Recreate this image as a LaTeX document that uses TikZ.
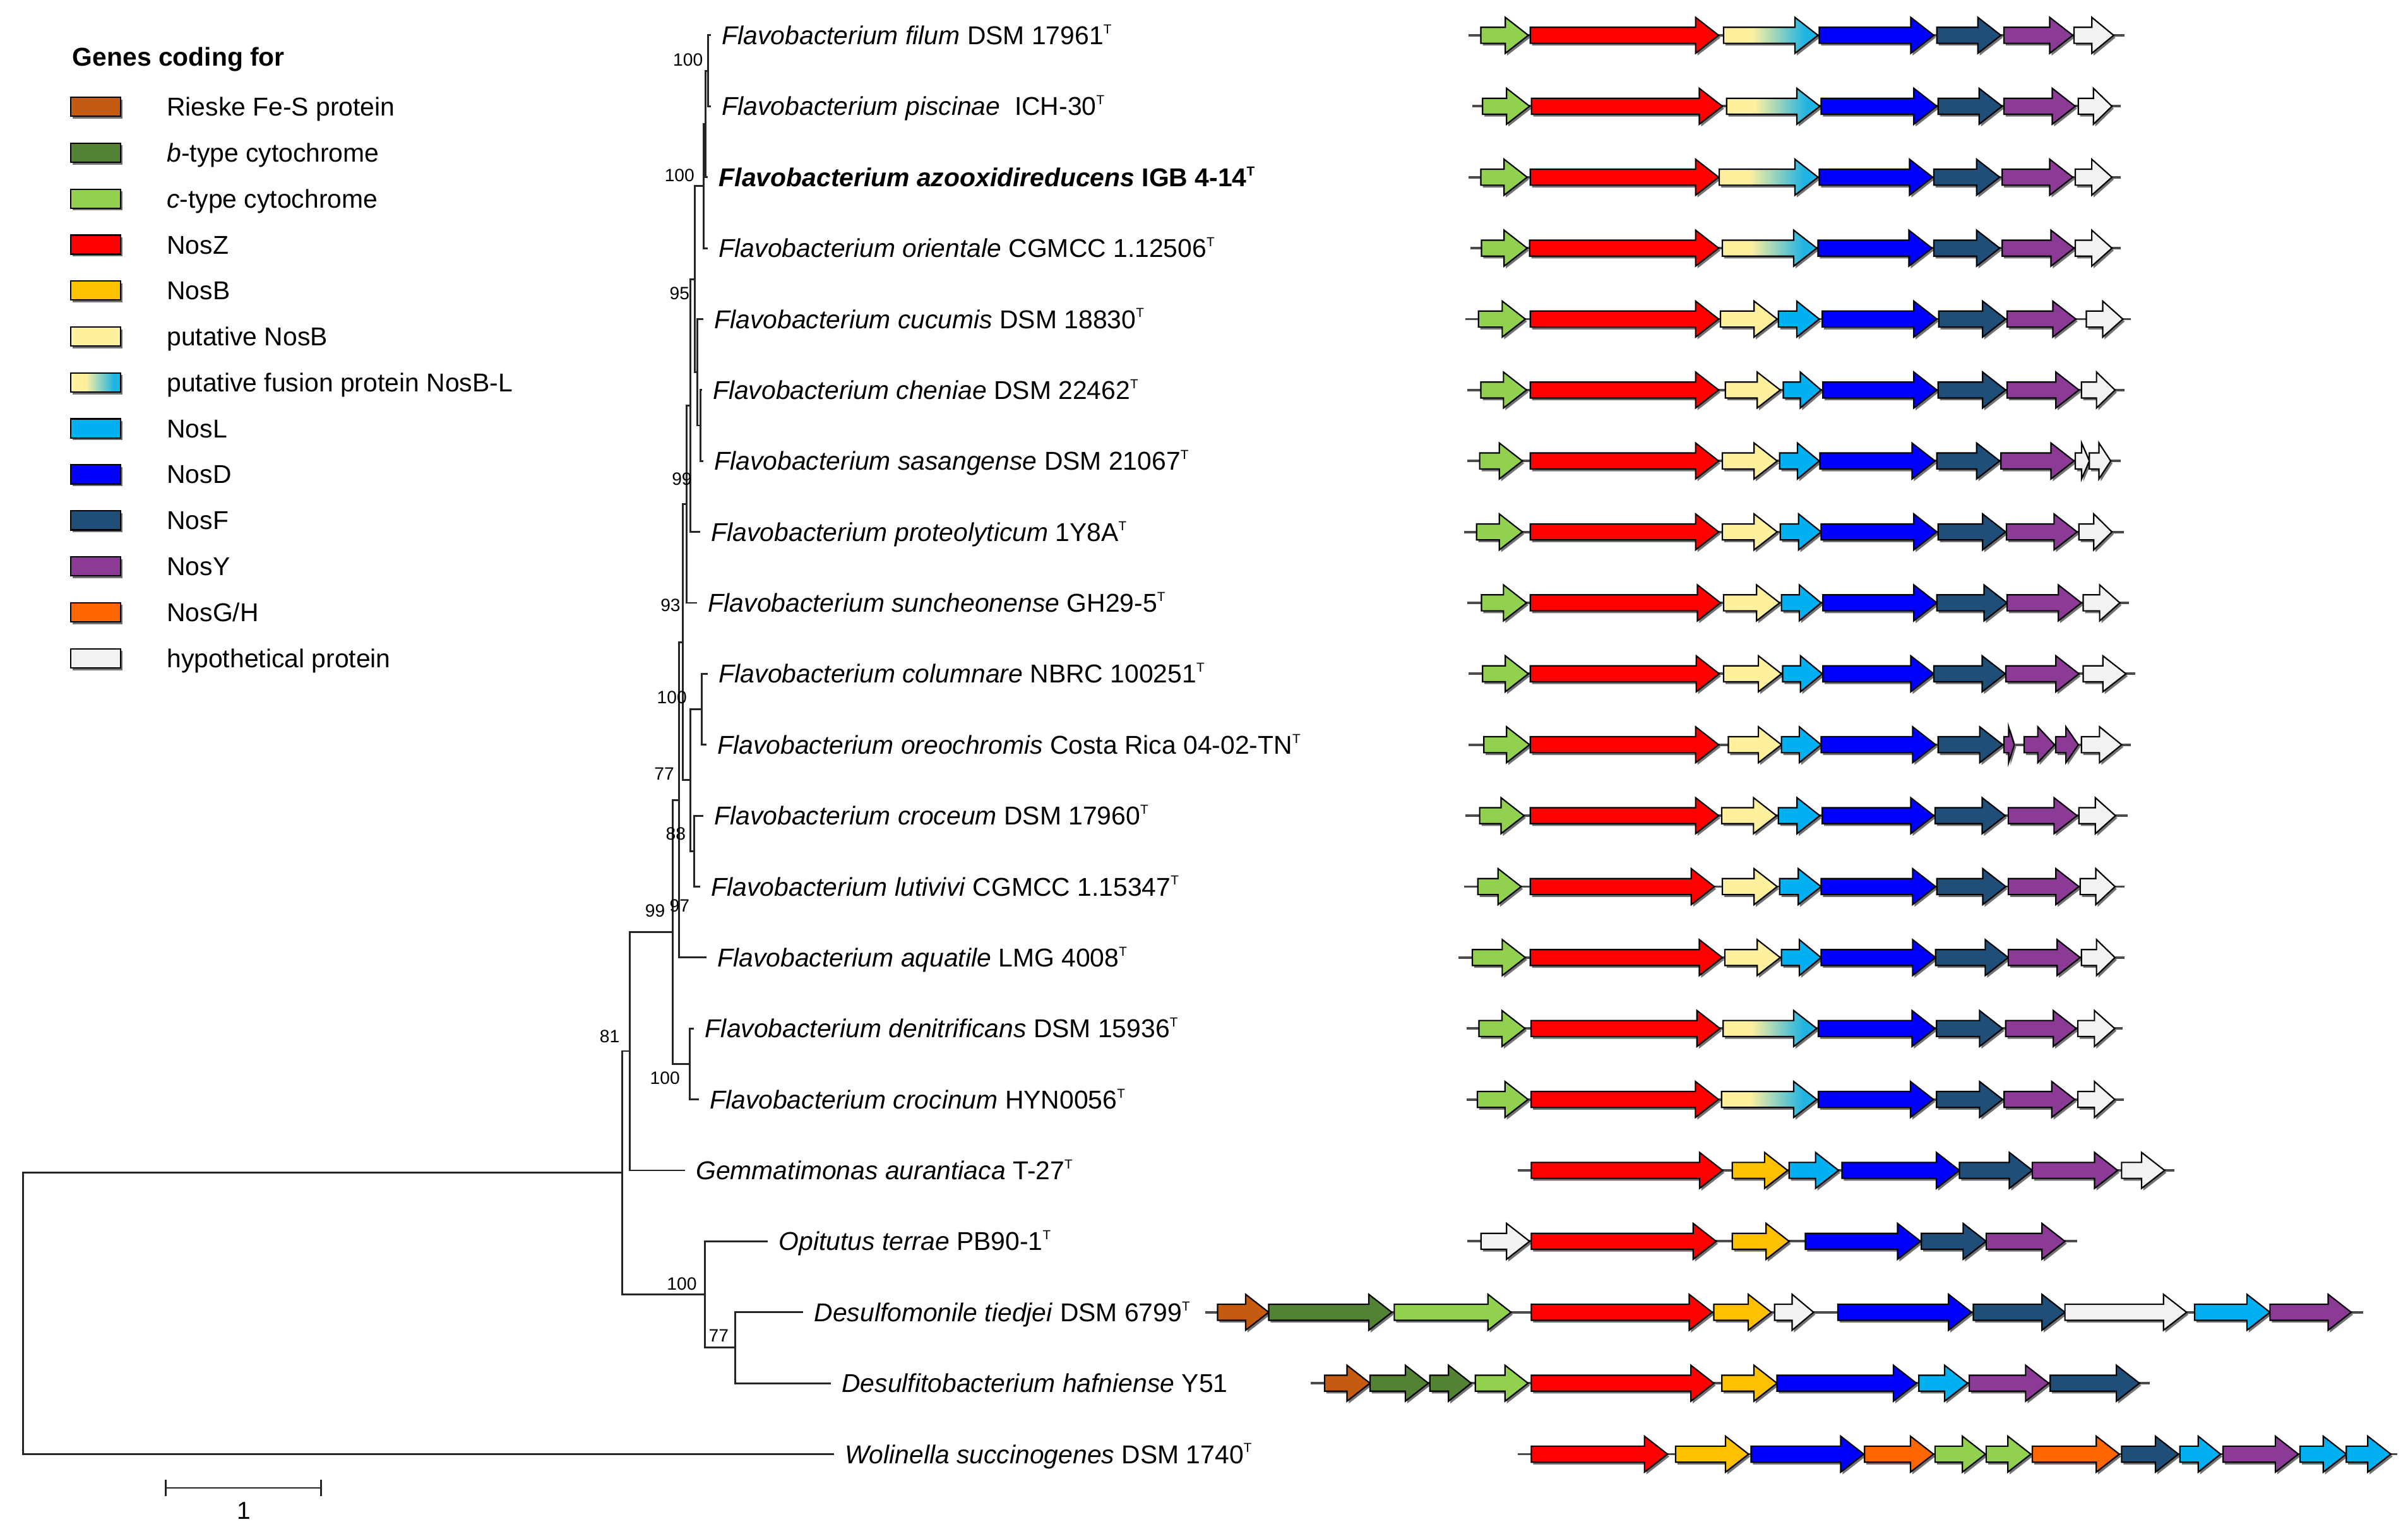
\documentclass[tikz,border=0pt]{standalone}
\usepackage{fontspec}
\setmainfont{Liberation Sans}
\usetikzlibrary{calc}
\definecolor{rieske}{HTML}{C55A11}
\definecolor{btype}{HTML}{548235}
\definecolor{ctype}{HTML}{92D050}
\definecolor{nosz}{HTML}{FF0000}
\definecolor{nosb}{HTML}{FFC000}
\definecolor{pnosb}{HTML}{FFF09E}
\definecolor{fcyan}{HTML}{20B4E2}
\definecolor{nosl}{HTML}{00B0F0}
\definecolor{nosd}{HTML}{0000FF}
\definecolor{nosf}{HTML}{1F4E79}
\definecolor{nosy}{HTML}{8B3A96}
\definecolor{nosgh}{HTML}{FF6600}
\definecolor{hypo}{HTML}{F2F2F2}
\pgfdeclarehorizontalshading{fusion}{100bp}{color(0bp)=(pnosb); color(25bp)=(pnosb); color(40bp)=(pnosb); color(68bp)=(fcyan); color(75bp)=(fcyan); color(100bp)=(fcyan)}
\newcommand\fs{\fontsize{16.8}{20}\selectfont}
\newcommand\tT{\raisebox{0.42em}{\fontsize{8.5}{8.5}\selectfont T}}
\tikzset{
  gout/.style={draw=black, line width=0.9pt, line join=miter},
  gR/.style={fill=rieske}, gb/.style={fill=btype}, gc/.style={fill=ctype},
  gZ/.style={fill=nosz}, gB/.style={fill=nosb}, gpB/.style={fill=pnosb},
  gFu/.style={shade, shading=fusion}, gL/.style={fill=nosl}, gD/.style={fill=nosd},
  gF/.style={fill=nosf}, gY/.style={fill=nosy}, gGH/.style={fill=nosgh}, gH/.style={fill=hypo},
  gline/.style={draw=black!70, line width=1.6pt},
  tree/.style={draw=black!85, line width=1.2pt},
  leaf/.style={anchor=west, inner sep=0pt, text height=12pt, text depth=0pt, font=\fs},
  boot/.style={inner sep=0pt, font=\fontsize{11.6}{12}\selectfont},
  legtxt/.style={anchor=west, inner sep=0pt, text height=12pt, text depth=0pt, font=\fs},
}
\newcommand\gn[4]{%
  \pgfmathsetmacro\gHL{min(15,0.55*(#3-(#2)))}%
  \pgfmathsetmacro\gXB{#3-\gHL}%
  \fill[black!55,shift={(1.2,1.5)}] (#2,#1-5.2) -- (\gXB,#1-5.2) -- (\gXB,#1-11.7) -- (#3,#1) -- (\gXB,#1+11.7) -- (\gXB,#1+5.2) -- (#2,#1+5.2) -- cycle;
  \path[gout,#4] (#2,#1-5.2) -- (\gXB,#1-5.2) -- (\gXB,#1-11.7) -- (#3,#1) -- (\gXB,#1+11.7) -- (\gXB,#1+5.2) -- (#2,#1+5.2) -- cycle;
}
\newcommand\generow[4]{%
  \draw[gline] (#2,#1) -- (#3,#1);
  \foreach \ga/\gb/\gc in {#4} {\gn{#1}{\ga}{\gb}{\gc}}%
}
\newcommand\legsw[3]{%
  \fill[black!55] (47.2,#1-4.7) rectangle (79.8,#1+7.7);
  \path[gout,#2] (46,#1-6.2) rectangle (78.6,#1+6.2);
  \node[legtxt] (#3) at (108.5,#1) {};
}
\begin{document}
\begin{tikzpicture}[x=1pt,y=-1pt]
\useasboundingbox (0,0) rectangle (1568,999);
\fill[white] (0,0) rectangle (1568,999);

% ---------------- legend ----------------
\node[legtxt, font=\fs\bfseries] (legtitle) at (47,37) {Genes coding for};
\foreach \yy/\st/\tx [count=\k] in {
  69.5/gR/{Rieske Fe-S protein},
  99.4/gb/{\textit{b}-type cytochrome},
  129.4/gc/{\textit{c}-type cytochrome},
  159.3/gZ/{NosZ},
  189.2/gB/{NosB},
  219.2/gpB/{putative NosB},
  249.1/gFu/{putative fusion protein NosB-L},
  279.0/gL/{NosL},
  308.9/gD/{NosD},
  338.9/gF/{NosF},
  368.8/gY/{NosY},
  398.7/gGH/{NosG/H},
  428.7/gH/{hypothetical protein}} {
  \fill[black!55] (47.2,\yy-4.7) rectangle (79.8,\yy+7.7);
  \path[gout,\st] (46,\yy-6.2) rectangle (78.6,\yy+6.2);
  \node[legtxt] (leg\k) at (108.5,\yy) {\tx};
}

% ---------------- leaf labels ----------------
\node[leaf] (L1) at (470,23) {\textit{Flavobacterium filum} DSM 17961\tT};
\node[leaf] (L2) at (470,69.2) {\textit{Flavobacterium piscinae}\ \ ICH-30\tT};
\node[leaf] (L3) at (468,115.4) {\bfseries\textit{Flavobacterium azooxidireducens} IGB 4-14\tT};
\node[leaf] (L4) at (468,161.6) {\textit{Flavobacterium orientale} CGMCC 1.12506\tT};
\node[leaf] (L5) at (465,207.8) {\textit{Flavobacterium cucumis} DSM 18830\tT};
\node[leaf] (L6) at (464,254) {\textit{Flavobacterium cheniae} DSM 22462\tT};
\node[leaf] (L7) at (465,300.2) {\textit{Flavobacterium sasangense} DSM 21067\tT};
\node[leaf] (L8) at (463,346.4) {\textit{Flavobacterium proteolyticum} 1Y8A\tT};
\node[leaf] (L9) at (461,392.6) {\textit{Flavobacterium suncheonense} GH29-5\tT};
\node[leaf] (L10) at (468,438.8) {\textit{Flavobacterium columnare} NBRC 100251\tT};
\node[leaf] (L11) at (467,485) {\textit{Flavobacterium oreochromis} Costa Rica 04-02-TN\tT};
\node[leaf] (L12) at (465,531.2) {\textit{Flavobacterium croceum} DSM 17960\tT};
\node[leaf] (L13) at (463,577.4) {\textit{Flavobacterium lutivivi} CGMCC 1.15347\tT};
\node[leaf] (L14) at (467,623.6) {\textit{Flavobacterium aquatile} LMG 4008\tT};
\node[leaf] (L15) at (459,669.8) {\textit{Flavobacterium denitrificans} DSM 15936\tT};
\node[leaf] (L16) at (462,716) {\textit{Flavobacterium crocinum} HYN0056\tT};
\node[leaf] (L17) at (453,762.2) {\textit{Gemmatimonas aurantiaca} T-27\tT};
\node[leaf] (L18) at (507,808.4) {\textit{Opitutus terrae} PB90-1\tT};
\node[leaf] (L19) at (530,854.6) {\textit{Desulfomonile tiedjei} DSM 6799\tT};
\node[leaf] (L20) at (548,900.8) {\textit{Desulfitobacterium hafniense} Y51};
\node[leaf] (L21) at (550,947) {\textit{Wolinella succinogenes} DSM 1740\tT};

% ---------------- internal nodes ----------------
\coordinate (U1) at (461,46.1);
\coordinate (U1b) at (459.5,80.75);
\coordinate (U2) at (458,121.2);
\coordinate (V2) at (456,277.1);
\coordinate (V) at (454,242.5);
\coordinate (U3) at (452.6,181.8);
\coordinate (W) at (449.7,264.1);
\coordinate (Y) at (447,328.4);
\coordinate (Ncol) at (457,461.9);
\coordinate (Ncro) at (452,554.3);
\coordinate (Q) at (449.7,508.1);
\coordinate (Z) at (444.5,418.2);
\coordinate (E) at (442,520.9);
\coordinate (H) at (449,692.9);
\coordinate (F) at (438,606.9);
\coordinate (B) at (410,684.5);
\coordinate (D) at (478.6,877.7);
\coordinate (C) at (459,843.05);
\coordinate (A) at (405,763.8);
\coordinate (R) at (15,855.4);

% ---------------- branches ----------------
\foreach \p/\c in {U1/L1,U1/L2,U1b/L3,U2/L4,V/L5,V2/L6,V2/L7,W/L8,Y/L9,Ncol/L10,Ncol/L11,Ncro/L12,Ncro/L13,E/L14,H/L15,H/L16,B/L17,C/L18,D/L19,D/L20,R/L21}
  \draw[tree] (\p) |- ([xshift=-7pt]\c.west);
\foreach \p/\c in {U1b/U1,U2/U1b,U3/U2,U3/V,V/V2,W/U3,Y/W,Z/Y,Z/Q,Q/Ncol,Q/Ncro,E/Z,F/E,F/H,B/F,A/B,A/C,C/D,R/A}
  \draw[tree] (\p) |- (\c);

% ---------------- bootstrap values ----------------
\node[boot] (b1) at (448,39) {100};
\node[boot] (b2) at (442.5,114) {100};
\node[boot] (b3) at (442.5,191) {95};
\node[boot] (b4) at (444,312) {99};
\node[boot] (b5) at (436.6,394) {93};
\node[boot] (b6) at (437.5,454) {100};
\node[boot] (b7) at (432.5,504) {77};
\node[boot] (b8) at (440,543) {88};
\node[boot] (b9) at (442.5,590) {97};
\node[boot] (b10) at (426.6,593) {99};
\node[boot] (b11) at (397,675) {81};
\node[boot] (b12) at (433,702) {100};
\node[boot] (b13) at (444,836) {100};
\node[boot] (b14) at (468,870) {77};

% ---------------- scale bar ----------------
\coordinate (sb1) at (108,969);
\coordinate (sb2) at (209,969);
\draw[tree] (sb1) -- (sb2);
\draw[tree] ([yshift=-5.5pt]sb1) -- ([yshift=5.5pt]sb1);
\draw[tree] ([yshift=-5.5pt]sb2) -- ([yshift=5.5pt]sb2);
\node[inner sep=0pt, font=\fontsize{16}{18}\selectfont] (sblab) at (159,984) {1};

% ---------------- gene clusters ----------------
\generow{23}{956.3}{1383.5}{964.3/995.2/gc, 996.4/1119.1/gZ, 1122.3/1183.8/gFu, 1184.6/1259.2/gD, 1261.2/1302.9/gF, 1304.9/1349.7/gY, 1350.5/1376.3/gH}
\generow{69.2}{958.7}{1381}{965.4/996/gc, 997.2/1121.5/gZ, 1124.3/1185/gFu, 1185.8/1261.2/gD, 1262/1303.7/gF, 1304.9/1351.3/gY, 1353.3/1375.2/gH}
\generow{115.4}{956.3}{1381}{964.3/994.4/gc, 996.4/1119.1/gZ, 1119.5/1183.8/gFu, 1184.6/1258.4/gD, 1259.2/1302.1/gF, 1303.7/1349.7/gY, 1351.3/1375.2/gH}
\generow{161.6}{957.5}{1381}{964.7/994.4/gc, 996/1119.1/gZ, 1121.5/1183/gFu, 1183.8/1258/gD, 1259.2/1302.1/gF, 1303.7/1350.5/gY, 1351.3/1375.2/gH}
\generow{207.8}{954.3}{1387.5}{962.7/993.2/gc, 996.4/1119.1/gZ, 1120.3/1157.2/gpB, 1158/1184.6/gL, 1186.6/1261.2/gD, 1262.4/1306/gF, 1306.9/1351.7/gY, 1358.5/1382.3/gH}
\generow{254}{955.5}{1383.5}{964.3/994/gc, 996.4/1119.1/gZ, 1123.5/1159.2/gpB, 1161.2/1185.8/gL, 1187/1261.2/gD, 1262/1306/gF, 1306.9/1353.7/gY, 1355.3/1377.2/gH}
\generow{300.2}{955.5}{1381}{963.5/991.3/gc, 996.4/1119.1/gZ, 1121.5/1157.2/gpB, 1158.8/1184.6/gL, 1185/1260/gD, 1261.2/1302.1/gF, 1302.9/1350.5/gY, 1351.3/1360.5/gH, 1360.5/1374.4/gH}
\generow{346.4}{953.5}{1383.1}{961.5/991.3/gc, 996.4/1119.1/gZ, 1121.5/1157.2/gpB, 1159.2/1185.8/gL, 1185.8/1261.2/gD, 1262/1306/gF, 1306.5/1352.5/gY, 1353.7/1375.2/gH}
\generow{392.6}{955.5}{1386.3}{964.7/994/gc, 996.4/1120.3/gZ, 1122.3/1158.8/gpB, 1160/1185.8/gL, 1187/1261.2/gD, 1261.2/1306.9/gF, 1306.9/1355.3/gY, 1356.5/1380.3/gH}
\generow{438.8}{956.3}{1390.2}{965.4/995.2/gc, 996.4/1119.5/gZ, 1122.3/1160/gpB, 1160.8/1186.6/gL, 1187/1259.2/gD, 1259.2/1305.7/gF, 1306.1/1353.7/gY, 1356.5/1384.3/gH}
\generow{485}{956.3}{1387.5}{966.2/996/gc, 996.4/1119.1/gZ, 1125.4/1160/gpB, 1160/1185.8/gL, 1185.8/1260.4/gD, 1262/1304.1/gF, 1304.9/1311.6/gY, 1318/1337.8/gY, 1338.6/1353.3/gY, 1355.3/1381.5/gH}
\generow{531.2}{954.3}{1385.5}{963.5/992.4/gc, 996.4/1119.1/gZ, 1121.1/1156.8/gpB, 1158/1185/gL, 1186.6/1259.2/gD, 1260/1305.7/gF, 1307.7/1352.5/gY, 1353.7/1377.5/gH}
\generow{577.4}{953.5}{1383.5}{962.3/990.5/gc, 996.4/1116.3/gZ, 1121.5/1157.2/gpB, 1158.8/1185.8/gL, 1185.8/1260.4/gD, 1261.2/1306.1/gF, 1307.7/1353.7/gY, 1354.5/1377.2/gH}
\generow{623.6}{949.6}{1383.5}{958.7/993.2/gc, 996.4/1121.5/gZ, 1123.1/1159.2/gpB, 1160/1185.8/gL, 1185.8/1260.4/gD, 1260.4/1307.7/gF, 1307.7/1354.5/gY, 1355.3/1377.2/gH}
\generow{669.8}{955}{1382}{963/993/gc, 997/1120/gZ, 1122/1183/gFu, 1184/1260/gD, 1261/1304/gF, 1306/1352/gY, 1353/1377/gH}
\generow{716}{955}{1383}{962/995/gc, 997/1119/gZ, 1121/1183/gFu, 1184/1259/gD, 1261/1304/gF, 1305/1351/gY, 1353/1377/gH}
\generow{762.2}{988.2}{1415.8}{997.1/1121.7/gZ, 1128/1164/gB, 1165/1197.2/gL, 1199.4/1275.9/gD, 1275.9/1323.4/gF, 1323.4/1378.9/gY, 1381.5/1409.5/gH}
\generow{808.4}{955.4}{1352.5}{964.4/996/gH, 997.1/1117.5/gZ, 1128/1165/gB, 1175.6/1250.6/gD, 1251.1/1293.3/gF, 1293.3/1344.6/gY}
\generow{854.6}{784.9}{1538.9}{792.8/826.1/gR, 826.1/906.3/gb, 907.9/983.9/gc, 997.1/1114.9/gZ, 1116/1153.4/gB, 1155.5/1180.9/gH, 1196.7/1283.8/gD, 1284.9/1344.6/gF, 1344.6/1423.8/gH, 1429/1478.1/gL, 1478.1/1531/gY}
\generow{900.8}{853.5}{1400}{862.5/892.1/gR, 892.1/930.1/gb, 931.1/958/gb, 960.7/995/gc, 997.1/1116/gZ, 1121.2/1157.1/gB, 1157.1/1247.9/gD, 1249.5/1281.2/gL, 1282.3/1334/gY, 1335/1393.1/gF}
\generow{947}{988.2}{1561}{997.1/1085.8/gZ, 1091.1/1138.6/gB, 1140.2/1213.6/gD, 1214.1/1259/gGH, 1260/1292.8/gc, 1293.3/1322.4/gc, 1323.4/1380/gGH, 1381.5/1418.5/gF, 1419.5/1445.9/gL, 1447.5/1496.6/gY, 1497.7/1527.8/gL, 1527.8/1556.8/gL}
\end{tikzpicture}
\end{document}
